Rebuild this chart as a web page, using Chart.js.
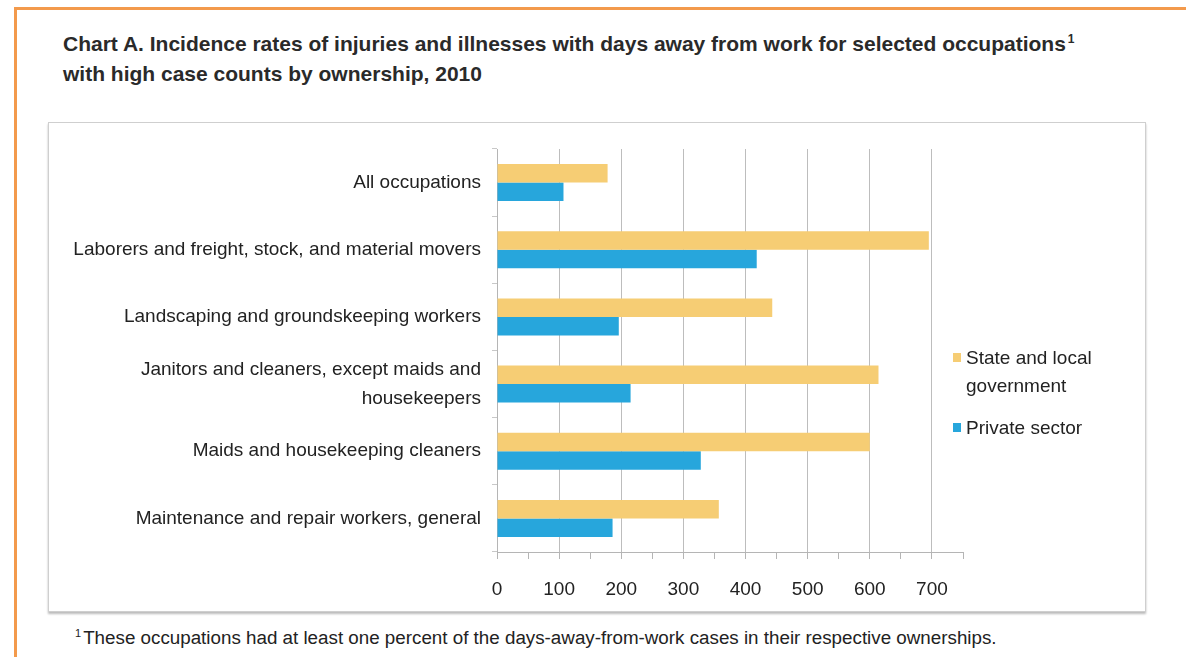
<!DOCTYPE html>
<html>
<head>
<meta charset="utf-8">
<script src="https://cdn.jsdelivr.net/npm/chart.js@4.4.0/dist/chart.umd.min.js"></script>
<style>
  body { margin: 0; background: #fff; font-family: "Liberation Sans", Arial, sans-serif; }
  #page { position: relative; width: 1186px; height: 657px; overflow: hidden; }
  #frame { position: absolute; left: 14px; top: 7px; width: 1190px; height: 680px;
           border-top: 3px solid #f39a4c; border-left: 3px solid #f39a4c; }
  #title { position: absolute; left: 63px; top: 24px; font-size: 21px; font-weight: bold;
           color: #2a2a2a; line-height: 30px; }
  #title sup { font-size: 12px; vertical-align: 8px; margin-left: 2px; }
  #box { position: absolute; left: 48px; top: 122px; width: 1096px; height: 488px;
         border: 1px solid #cfcfcf; box-shadow: 0 2px 2px #bcbcbc; }
  #legend { position: absolute; left: 953px; top: 344px; font-size: 19px; color: #222; line-height: 28px; }
  #legend div { position: relative; padding-left: 13px; }
  #legend span { position: absolute; left: 0; top: 9px; width: 8px; height: 9px; }
  #note { position: absolute; left: 75px; top: 627px; font-size: 18.8px; color: #222; }
  #note sup { font-size: 11px; vertical-align: 7px; margin-right: 2px; }
</style>
</head>
<body>
<div id="page">
  <div id="frame"></div>
  <div id="title">Chart A. Incidence rates of injuries and illnesses with days away from work for selected occupations<sup>1</sup><br>with high case counts by ownership, 2010</div>
  <div id="box"><canvas id="chartA" width="1096" height="488"></canvas></div>
  <div id="legend">
    <div><span style="background:#f6cd74"></span>State and local<br>government</div>
    <div style="margin-top:14px"><span style="background:#27a6dc"></span>Private sector</div>
  </div>
  <div id="note"><sup>1</sup>These occupations had at least one percent of the days-away-from-work cases in their respective ownerships.</div>
</div>
<script>
const occupations = [
    'All occupations',
    'Laborers and freight, stock, and material movers',
    'Landscaping and groundskeeping workers',
    ['Janitors and cleaners, except maids and', 'housekeepers'],
    'Maids and housekeeping cleaners',
    'Maintenance and repair workers, general'
]
const stateLocal = [178, 695, 443, 614, 600, 357]
const privateSector = [107, 418, 196, 215, 328, 186]
const rateTicks = [0, 100, 200, 300, 400, 500, 600, 700]

const chartA = document.getElementById('chartA')

new Chart(chartA, {
    type: 'bar',
    data: {
        labels: occupations,
        datasets: [{
            label: 'State and local government',
            data: stateLocal,
            backgroundColor: '#f6cd74',
            categoryPercentage: 0.55,
            barPercentage: 1.0
        }, {
            label: 'Private sector',
            data: privateSector,
            backgroundColor: '#27a6dc',
            categoryPercentage: 0.55,
            barPercentage: 1.0
        }]
    },
    options: {
        indexAxis: 'y',
        responsive: false,
        animation: false,
        layout: {
            padding: { top: 26, right: 182, bottom: 13, left: 0 }
        },
        plugins: {
            legend: { display: false },
            tooltip: { enabled: false }
        },
        scales: {
            x: {
                min: 0,
                max: 750,
                afterFit: (axis) => { axis.height = 46 },
                ticks: {
                    stepSize: 50,
                    padding: 19,
                    autoSkip: false,
                    maxRotation: 0,
                    minRotation: 0,
                    color: '#222',
                    font: { family: 'Liberation Sans', size: 19 },
                    callback: (v) => rateTicks.includes(v) ? v : ''
                },
                grid: {
                    color: (ctx) => (ctx.tick && ctx.tick.value % 100 === 0 && ctx.tick.value > 0) ? '#bdbdbd' : 'transparent',
                    tickColor: '#b5b5b5',
                    tickLength: 7
                },
                border: { color: '#b5b5b5' }
            },
            y: {
                afterFit: (axis) => { axis.width = 448 },
                ticks: {
                    padding: 11,
                    color: '#222',
                    font: { family: 'Liberation Sans', size: 19, lineHeight: 1.5 }
                },
                grid: {
                    drawOnChartArea: false,
                    tickColor: '#c8c8c8',
                    tickLength: 5
                },
                border: { color: '#b5b5b5' }
            }
        }
    }
})
</script>
</body>
</html>
